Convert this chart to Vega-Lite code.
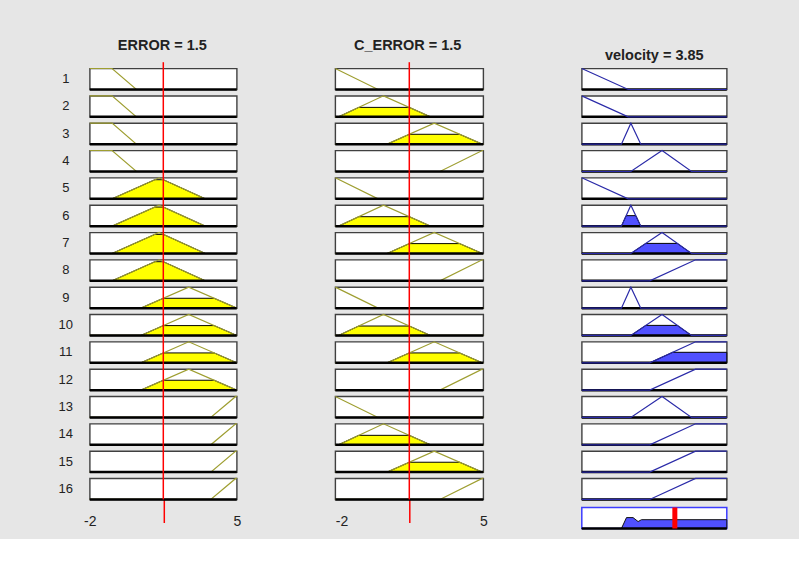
{
  "$schema": "https://vega.github.io/schema/vega-lite/v6.json",
  "background": "#e6e6e6",
  "padding": {"left": 57.8, "top": 37.5, "right": 68, "bottom": 6},
  "config": {
    "view": {"fill": "white", "stroke": "#404040", "strokeWidth": 1.4},
    "font": "Liberation Sans"
  },
  "datasets": {
    "mf": [
      {"col":"ERROR","rule":1,"series":"mf","x":[-2,-0.94,0.22,5],"mu":[1,1,0,0]},
      {"col":"ERROR","rule":2,"series":"mf","x":[-2,-0.94,0.22,5],"mu":[1,1,0,0]},
      {"col":"ERROR","rule":3,"series":"mf","x":[-2,-0.94,0.22,5],"mu":[1,1,0,0]},
      {"col":"ERROR","rule":4,"series":"mf","x":[-2,-0.94,0.22,5],"mu":[1,1,0,0]},
      {"col":"ERROR","rule":5,"series":"mf","x":[-2,-0.94,1.3,3.5,5],"mu":[0,0,1,0,0]},
      {"col":"ERROR","rule":6,"series":"mf","x":[-2,-0.94,1.3,3.5,5],"mu":[0,0,1,0,0]},
      {"col":"ERROR","rule":7,"series":"mf","x":[-2,-0.94,1.3,3.5,5],"mu":[0,0,1,0,0]},
      {"col":"ERROR","rule":8,"series":"mf","x":[-2,-0.94,1.3,3.5,5],"mu":[0,0,1,0,0]},
      {"col":"ERROR","rule":9,"series":"mf","x":[-2,0.43,2.71,5],"mu":[0,0,1,0]},
      {"col":"ERROR","rule":10,"series":"mf","x":[-2,0.43,2.71,5],"mu":[0,0,1,0]},
      {"col":"ERROR","rule":11,"series":"mf","x":[-2,0.43,2.71,5],"mu":[0,0,1,0]},
      {"col":"ERROR","rule":12,"series":"mf","x":[-2,0.43,2.71,5],"mu":[0,0,1,0]},
      {"col":"ERROR","rule":13,"series":"mf","x":[-2,3.76,4.95,5],"mu":[0,0,1,1]},
      {"col":"ERROR","rule":14,"series":"mf","x":[-2,3.76,4.95,5],"mu":[0,0,1,1]},
      {"col":"ERROR","rule":15,"series":"mf","x":[-2,3.76,4.95,5],"mu":[0,0,1,1]},
      {"col":"ERROR","rule":16,"series":"mf","x":[-2,3.76,4.95,5],"mu":[0,0,1,1]},
      {"col":"ERROR","rule":5,"series":"fired","x":[-0.94,1.1,1.5,3.5],"mu":[0,0.91,0.91,0]},
      {"col":"ERROR","rule":6,"series":"fired","x":[-0.94,1.1,1.5,3.5],"mu":[0,0.91,0.91,0]},
      {"col":"ERROR","rule":7,"series":"fired","x":[-0.94,1.1,1.5,3.5],"mu":[0,0.91,0.91,0]},
      {"col":"ERROR","rule":8,"series":"fired","x":[-0.94,1.1,1.5,3.5],"mu":[0,0.91,0.91,0]},
      {"col":"ERROR","rule":9,"series":"fired","x":[0.43,1.5,3.92,5],"mu":[0,0.47,0.47,0]},
      {"col":"ERROR","rule":10,"series":"fired","x":[0.43,1.5,3.92,5],"mu":[0,0.47,0.47,0]},
      {"col":"ERROR","rule":11,"series":"fired","x":[0.43,1.5,3.92,5],"mu":[0,0.47,0.47,0]},
      {"col":"ERROR","rule":12,"series":"fired","x":[0.43,1.5,3.92,5],"mu":[0,0.47,0.47,0]},

      {"col":"C_ERROR","rule":1,"series":"mf","x":[-2,0.02,5],"mu":[1,0,0]},
      {"col":"C_ERROR","rule":2,"series":"mf","x":[-2,-1.85,0.28,2.5,5],"mu":[0,0,1,0,0]},
      {"col":"C_ERROR","rule":3,"series":"mf","x":[-2,0.45,2.68,4.95,5],"mu":[0,0,1,0,0]},
      {"col":"C_ERROR","rule":4,"series":"mf","x":[-2,2.95,4.95,5],"mu":[0,0,1,1]},
      {"col":"C_ERROR","rule":5,"series":"mf","x":[-2,0.02,5],"mu":[1,0,0]},
      {"col":"C_ERROR","rule":6,"series":"mf","x":[-2,-1.85,0.28,2.5,5],"mu":[0,0,1,0,0]},
      {"col":"C_ERROR","rule":7,"series":"mf","x":[-2,0.45,2.68,4.95,5],"mu":[0,0,1,0,0]},
      {"col":"C_ERROR","rule":8,"series":"mf","x":[-2,2.95,4.95,5],"mu":[0,0,1,1]},
      {"col":"C_ERROR","rule":9,"series":"mf","x":[-2,0.02,5],"mu":[1,0,0]},
      {"col":"C_ERROR","rule":10,"series":"mf","x":[-2,-1.85,0.28,2.5,5],"mu":[0,0,1,0,0]},
      {"col":"C_ERROR","rule":11,"series":"mf","x":[-2,0.45,2.68,4.95,5],"mu":[0,0,1,0,0]},
      {"col":"C_ERROR","rule":12,"series":"mf","x":[-2,2.95,4.95,5],"mu":[0,0,1,1]},
      {"col":"C_ERROR","rule":13,"series":"mf","x":[-2,0.02,5],"mu":[1,0,0]},
      {"col":"C_ERROR","rule":14,"series":"mf","x":[-2,-1.85,0.28,2.5,5],"mu":[0,0,1,0,0]},
      {"col":"C_ERROR","rule":15,"series":"mf","x":[-2,0.45,2.68,4.95,5],"mu":[0,0,1,0,0]},
      {"col":"C_ERROR","rule":16,"series":"mf","x":[-2,2.95,4.95,5],"mu":[0,0,1,1]},
      {"col":"C_ERROR","rule":2,"series":"fired","x":[-1.85,-0.89,1.5,2.5],"mu":[0,0.45,0.45,0]},
      {"col":"C_ERROR","rule":6,"series":"fired","x":[-1.85,-0.89,1.5,2.5],"mu":[0,0.45,0.45,0]},
      {"col":"C_ERROR","rule":10,"series":"fired","x":[-1.85,-0.89,1.5,2.5],"mu":[0,0.45,0.45,0]},
      {"col":"C_ERROR","rule":14,"series":"fired","x":[-1.85,-0.89,1.5,2.5],"mu":[0,0.45,0.45,0]},
      {"col":"C_ERROR","rule":3,"series":"fired","x":[0.45,1.5,3.88,4.95],"mu":[0,0.47,0.47,0]},
      {"col":"C_ERROR","rule":7,"series":"fired","x":[0.45,1.5,3.88,4.95],"mu":[0,0.47,0.47,0]},
      {"col":"C_ERROR","rule":11,"series":"fired","x":[0.45,1.5,3.88,4.95],"mu":[0,0.47,0.47,0]},
      {"col":"C_ERROR","rule":15,"series":"fired","x":[0.45,1.5,3.88,4.95],"mu":[0,0.47,0.47,0]},

      {"col":"velocity","rule":1,"series":"mf","x":[0,1.92,6],"mu":[1,0,0]},
      {"col":"velocity","rule":2,"series":"mf","x":[0,1.92,6],"mu":[1,0,0]},
      {"col":"velocity","rule":3,"series":"mf","x":[0,1.64,2.03,2.44,6],"mu":[0,0,1,0,0]},
      {"col":"velocity","rule":4,"series":"mf","x":[0,2.03,3.32,4.54,6],"mu":[0,0,1,0,0]},
      {"col":"velocity","rule":5,"series":"mf","x":[0,1.92,6],"mu":[1,0,0]},
      {"col":"velocity","rule":6,"series":"mf","x":[0,1.64,2.03,2.44,6],"mu":[0,0,1,0,0]},
      {"col":"velocity","rule":7,"series":"mf","x":[0,2.03,3.32,4.54,6],"mu":[0,0,1,0,0]},
      {"col":"velocity","rule":8,"series":"mf","x":[0,2.81,4.71,6],"mu":[0,0,1,1]},
      {"col":"velocity","rule":9,"series":"mf","x":[0,1.64,2.03,2.44,6],"mu":[0,0,1,0,0]},
      {"col":"velocity","rule":10,"series":"mf","x":[0,2.03,3.32,4.54,6],"mu":[0,0,1,0,0]},
      {"col":"velocity","rule":11,"series":"mf","x":[0,2.81,4.71,6],"mu":[0,0,1,1]},
      {"col":"velocity","rule":12,"series":"mf","x":[0,2.81,4.71,6],"mu":[0,0,1,1]},
      {"col":"velocity","rule":13,"series":"mf","x":[0,2.03,3.32,4.54,6],"mu":[0,0,1,0,0]},
      {"col":"velocity","rule":14,"series":"mf","x":[0,2.81,4.71,6],"mu":[0,0,1,1]},
      {"col":"velocity","rule":15,"series":"mf","x":[0,2.81,4.71,6],"mu":[0,0,1,1]},
      {"col":"velocity","rule":16,"series":"mf","x":[0,2.81,4.71,6],"mu":[0,0,1,1]},
      {"col":"velocity","rule":6,"series":"fired","x":[1.64,1.835,2.235,2.44],"mu":[0,0.5,0.5,0]},
      {"col":"velocity","rule":7,"series":"fired","x":[2.03,2.65,3.95,4.54],"mu":[0,0.48,0.48,0]},
      {"col":"velocity","rule":10,"series":"fired","x":[2.03,2.65,3.95,4.54],"mu":[0,0.48,0.48,0]},
      {"col":"velocity","rule":11,"series":"fired","x":[2.81,3.76,6],"mu":[0,0.5,0.5]}
    ],
    "agg": [
      {"x":0,"mu":0},{"x":1.64,"mu":0},{"x":1.85,"mu":0.52},{"x":2.12,"mu":0.52},
      {"x":2.33,"mu":0.33},{"x":2.47,"mu":0.42},{"x":6,"mu":0.42}
    ]
  },
  "spacing": 90.5,
  "hconcat": [
    {
      "title": {"text": "ERROR = 1.5", "fontSize": 14.5, "fontWeight": "bold", "font": "Liberation Sans", "color": "#222222", "anchor": "middle", "frame": "bounds", "baseline": "alphabetic", "offset": 0, "dy": 3.7, "dx": 13},
      "data": {"name": "mf"},
      "transform": [{"filter": "datum.col == 'ERROR'"}, {"flatten": ["x", "mu"]}],
      "facet": {"row": {"field": "rule", "type": "ordinal", "sort": "ascending", "title": null, "header": null}},
      "spacing": {"row": 6.33},
      "bounds": "flush",
      "spec": {
        "width": 147, "height": 21,
        "layer": [
          {"transform": [{"filter": "datum.series == 'fired'"}],
           "mark": {"type": "area", "color": "#ffff00", "stroke": "#000000", "strokeWidth": 1},
           "encoding": {"x": {"field": "x", "type": "quantitative", "scale": {"domain": [-2, 5]},
              "axis": {"values": [-2, 1.5, 5], "domain": false, "grid": false, "title": null, "ticks": true, "tickSize": 23, "tickWidth": 1.5,
                "tickColor": {"condition": {"test": "datum.value === 1.5", "value": "#ff0000"}, "value": "transparent"},
                "labelExpr": "datum.value === 1.5 ? '' : '' + datum.value", "labelPadding": -1, "labelBaseline": "middle", "labelFlush": false, "labelAlign": "center",
                "labelFont": "Liberation Sans", "labelFontSize": 14, "labelColor": "#222222"}},
                        "y": {"field": "mu", "type": "quantitative", "scale": {"domain": [0, 1], "nice": false}, "axis": null}}},
          {"transform": [{"filter": "datum.series == 'mf'"}],
           "mark": {"type": "line", "color": "#9e9e30", "strokeWidth": 1.2},
           "encoding": {"x": {"field": "x", "type": "quantitative"}, "y": {"field": "mu", "type": "quantitative"}}},
          {"transform": [{"filter": "datum.series == 'mf'"}, {"aggregate": [{"op": "count", "as": "n"}], "groupby": ["rule"]}],
           "mark": {"type": "rule", "color": "#000000", "strokeWidth": 2.5},
           "encoding": {"x": {"datum": -2}, "x2": {"datum": 5}, "y": {"datum": 0}}},
          {"transform": [{"filter": "datum.series == 'mf'"}, {"aggregate": [{"op": "count", "as": "n"}], "groupby": ["rule"]}],
           "mark": {"type": "rule", "color": "#ff0000", "strokeWidth": 1.5},
           "encoding": {"x": {"datum": 1.5}, "y": {"datum": 0}, "y2": {"datum": 1.3}}},
          {"transform": [{"filter": "datum.series == 'mf'"}, {"aggregate": [{"op": "count", "as": "n"}], "groupby": ["rule"]}],
           "mark": {"type": "text", "dx": -24, "font": "Liberation Sans", "fontSize": 13, "color": "#222222", "align": "center", "baseline": "middle"},
           "encoding": {"x": {"datum": -2}, "y": {"datum": 0.5}, "text": {"field": "rule", "type": "nominal"}}}
        ]
      }
    },
    {
      "title": {"text": "C_ERROR = 1.5", "fontSize": 14.5, "fontWeight": "bold", "font": "Liberation Sans", "color": "#222222", "anchor": "middle", "frame": "bounds", "baseline": "alphabetic", "offset": 0, "dy": 3.7, "dx": -2},
      "data": {"name": "mf"},
      "transform": [{"filter": "datum.col == 'C_ERROR'"}, {"flatten": ["x", "mu"]}],
      "facet": {"row": {"field": "rule", "type": "ordinal", "sort": "ascending", "title": null, "header": null}},
      "spacing": {"row": 6.33},
      "bounds": "flush",
      "spec": {
        "width": 148, "height": 21,
        "layer": [
          {"transform": [{"filter": "datum.series == 'fired'"}],
           "mark": {"type": "area", "color": "#ffff00", "stroke": "#000000", "strokeWidth": 1},
           "encoding": {"x": {"field": "x", "type": "quantitative", "scale": {"domain": [-2, 5]},
              "axis": {"values": [-2, 1.5, 5], "domain": false, "grid": false, "title": null, "ticks": true, "tickSize": 23, "tickWidth": 1.5,
                "tickColor": {"condition": {"test": "datum.value === 1.5", "value": "#ff0000"}, "value": "transparent"},
                "labelExpr": "datum.value === 1.5 ? '' : '' + datum.value", "labelPadding": -1, "labelBaseline": "middle", "labelFlush": false,
                "labelAlign": {"condition": {"test": "datum.value === -2", "value": "left"}, "value": "center"},
                "labelFont": "Liberation Sans", "labelFontSize": 14, "labelColor": "#222222"}},
                        "y": {"field": "mu", "type": "quantitative", "scale": {"domain": [0, 1], "nice": false}, "axis": null}}},
          {"transform": [{"filter": "datum.series == 'mf'"}],
           "mark": {"type": "line", "color": "#9e9e30", "strokeWidth": 1.2},
           "encoding": {"x": {"field": "x", "type": "quantitative"}, "y": {"field": "mu", "type": "quantitative"}}},
          {"transform": [{"filter": "datum.series == 'mf'"}, {"aggregate": [{"op": "count", "as": "n"}], "groupby": ["rule"]}],
           "mark": {"type": "rule", "color": "#000000", "strokeWidth": 2.5},
           "encoding": {"x": {"datum": -2}, "x2": {"datum": 5}, "y": {"datum": 0}}},
          {"transform": [{"filter": "datum.series == 'mf'"}, {"aggregate": [{"op": "count", "as": "n"}], "groupby": ["rule"]}],
           "mark": {"type": "rule", "color": "#ff0000", "strokeWidth": 1.5},
           "encoding": {"x": {"datum": 1.5}, "y": {"datum": 0}, "y2": {"datum": 1.3}}}
        ]
      }
    },
    {
      "title": {"text": "velocity = 3.85", "fontSize": 14.5, "fontWeight": "bold", "font": "Liberation Sans", "color": "#222222", "anchor": "middle", "frame": "bounds", "baseline": "alphabetic", "offset": 0, "dy": 8.7},
      "spacing": 0,
      "vconcat": [
        {
          "data": {"name": "mf"},
          "transform": [{"filter": "datum.col == 'velocity'"}, {"flatten": ["x", "mu"]}],
          "facet": {"row": {"field": "rule", "type": "ordinal", "sort": "ascending", "title": null, "header": null}},
          "spacing": {"row": 6.33},
          "bounds": "flush",
          "spec": {
            "width": 145, "height": 21,
            "layer": [
              {"transform": [{"filter": "datum.series == 'fired'"}],
               "mark": {"type": "area", "color": "#5050ff", "stroke": "#000000", "strokeWidth": 1},
               "encoding": {"x": {"field": "x", "type": "quantitative", "scale": {"domain": [0, 6]}, "axis": null},
                            "y": {"field": "mu", "type": "quantitative", "scale": {"domain": [0, 1], "nice": false}, "axis": null}}},
              {"transform": [{"filter": "datum.series == 'mf'"}, {"aggregate": [{"op": "count", "as": "n"}], "groupby": ["rule"]}],
               "mark": {"type": "rule", "color": "#000000", "strokeWidth": 2.5},
               "encoding": {"x": {"datum": 0}, "x2": {"datum": 6}, "y": {"datum": 0}}},
              {"transform": [{"filter": "datum.series == 'mf'"}],
               "mark": {"type": "line", "color": "#2a2aa8", "strokeWidth": 1.2},
               "encoding": {"x": {"field": "x", "type": "quantitative"}, "y": {"field": "mu", "type": "quantitative"}}}
            ]
          }
        },
        {
          "data": {"name": "agg"},
          "width": 145, "height": 21,
          "view": {"stroke": "#3c3cff", "strokeWidth": 1.5, "fill": "white"},
          "layer": [
            {"mark": {"type": "area", "color": "#5050ff", "stroke": "#111111", "strokeWidth": 1},
             "encoding": {"x": {"field": "x", "type": "quantitative", "scale": {"domain": [0, 6]}, "axis": null},
                          "y": {"field": "mu", "type": "quantitative", "scale": {"domain": [0, 1], "nice": false}, "axis": null}}},
            {"transform": [{"aggregate": [{"op": "count", "as": "n"}]}],
             "mark": {"type": "rule", "color": "#000000", "strokeWidth": 2.5},
             "encoding": {"x": {"datum": 0}, "x2": {"datum": 6}, "y": {"datum": 0}}},
            {"transform": [{"aggregate": [{"op": "count", "as": "n"}]}],
             "mark": {"type": "rule", "color": "#ff0000", "strokeWidth": 5},
             "encoding": {"x": {"datum": 3.85}}}
          ]
        }
      ]
    }
  ]
}
